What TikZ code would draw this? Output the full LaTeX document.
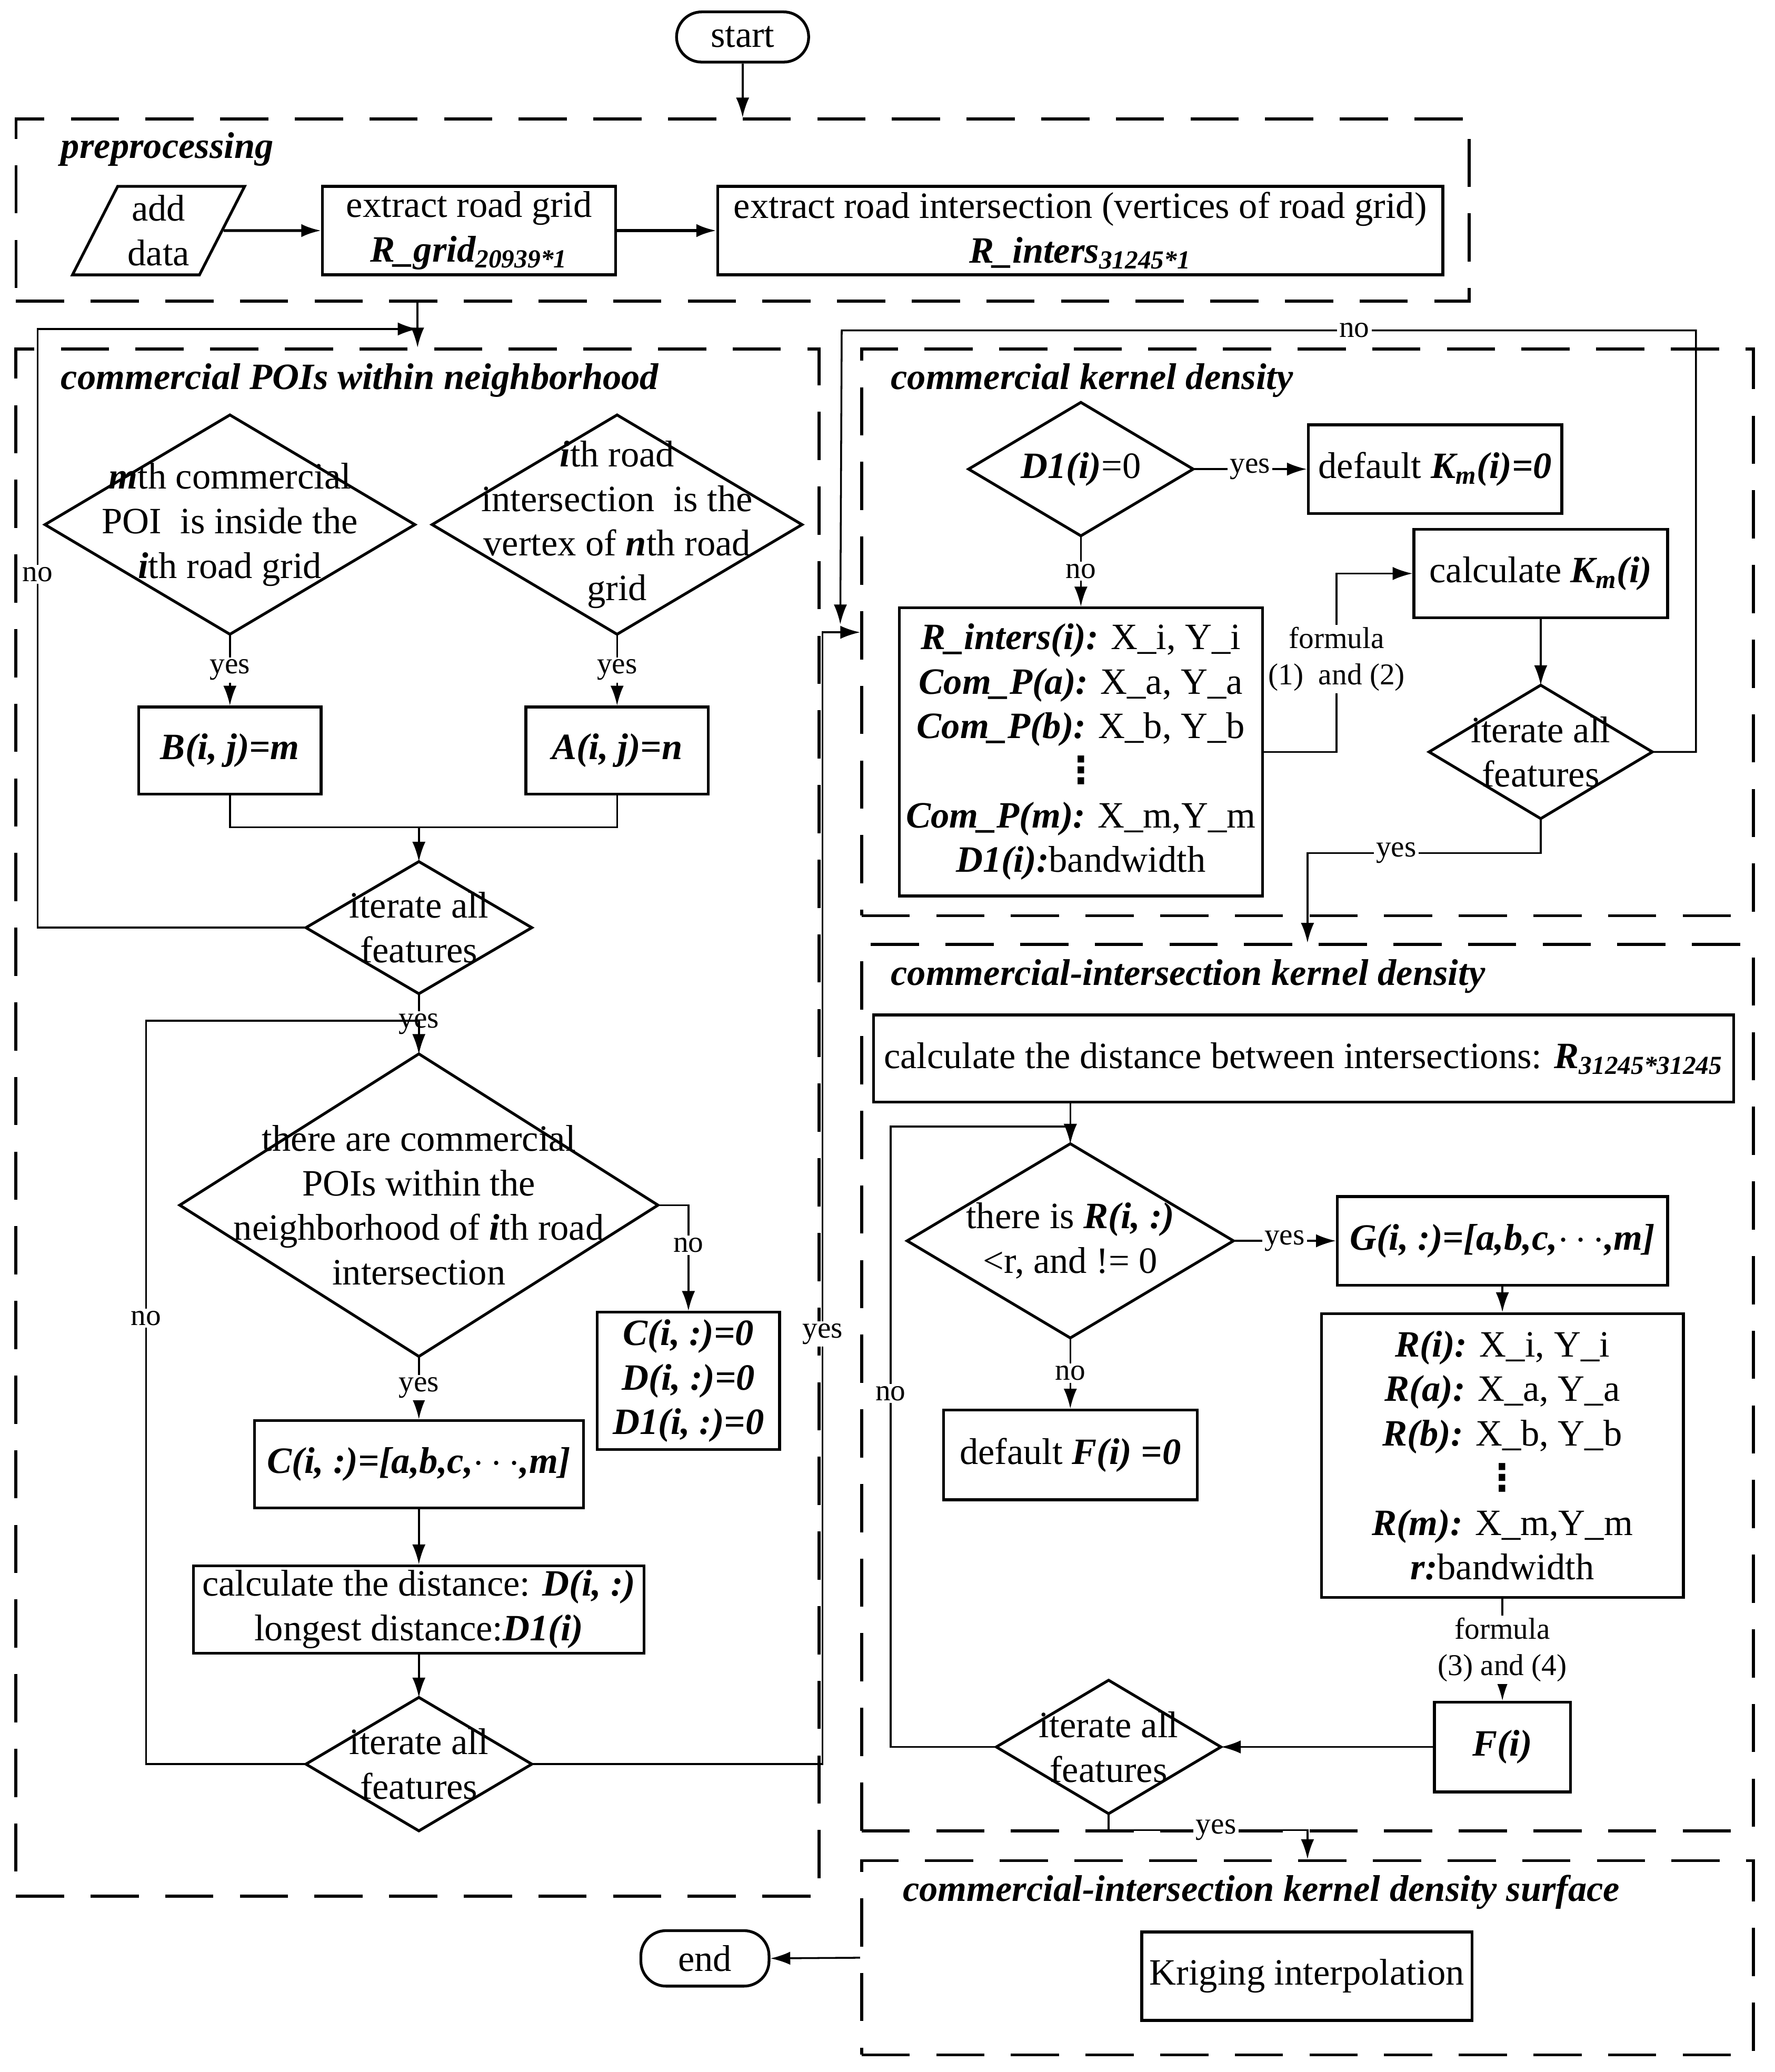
\documentclass[tikz,border=0pt]{standalone}
\usepackage{fontspec}
\setmainfont{Liberation Serif}
\newfontfamily\symfont{DejaVu Sans}
\usetikzlibrary{arrows.meta, shapes.geometric, positioning}
\newcommand{\coldots}{{\symfont\bfseries ⋮}}

\begin{document}
\begin{tikzpicture}[
x=0.02cm, y=-0.02cm,
font=\fontsize{16}{19.2}\selectfont,
box/.style={draw, rectangle, line width=1.2pt, align=center, inner sep=2pt},
decision/.style={draw, diamond, line width=1.2pt, inner sep=0pt, outer sep=0pt},
dtext/.style={align=center, inner sep=0pt},
terminal/.style={draw, rectangle, rounded corners=0.38cm, line width=1.2pt},
io/.style={draw, trapezium, trapezium left angle=64, trapezium right angle=116,
  trapezium stretches=true, line width=1.2pt, align=center, inner sep=1pt},
groupbox/.style={draw, rectangle, line width=1.3pt, dash pattern=on 0.73cm off 0.4cm},
grouptitle/.style={anchor=west, font=\fontsize{16}{19.2}\selectfont\bfseries\itshape},
lbl/.style={fill=white, inner sep=1pt, align=center, font=\fontsize{13}{15.6}\selectfont},
arrow/.style={-{Latex[length=3mm, width=2mm]}, line width=0.8pt},
conn/.style={line width=0.8pt}
]
\useasboundingbox (0,0) rectangle (1343,1568);

% preprocessing
\node[terminal, minimum width=2cm, minimum height=0.76cm] (start) at (562,28) {start};
\node[groupbox, minimum width=22cm, minimum height=2.76cm] (pre) at (562,159) {};
\node[grouptitle] (preT) at (40,113) {preprocessing};
\node[io, minimum width=2.62cm, minimum height=1.34cm] (data) at (120,174.5) {add\\data};
\node[box, minimum width=4.44cm, minimum height=1.34cm] (grid) at (355,174.5) {extract road grid\\\textbf{\textit{R\_grid\textsubscript{20939*1}}}};
\node[box, minimum width=10.98cm, minimum height=1.34cm] (inters) at (817.5,174.5) {extract road intersection (vertices of road grid)\\\textbf{\textit{R\_inters\textsubscript{31245*1}}}};

% commercial POIs within neighborhood
\node[groupbox, minimum width=12.16cm, minimum height=23.42cm] (poi) at (316,849.5) {};
\node[grouptitle] (poiT) at (40,288) {commercial POIs within neighborhood};
\node[decision, minimum width=5.6cm, minimum height=3.32cm,
  label={[dtext]center:{\textbf{\textit{m}}th commercial\\POI\ \ is inside the\\\textbf{\textit{i}}th road grid}}] (inside) at (174,397) {};
\node[decision, minimum width=5.6cm, minimum height=3.32cm,
  label={[dtext]center:{\textbf{\textit{i}}th road\\intersection\ \ is the\\vertex of \textbf{\textit{n}}th road\\grid}}] (vertex) at (467,397) {};
\node[box, minimum width=2.76cm, minimum height=1.32cm] (bij) at (174,568) {\textbf{\textit{B(i, j)=m}}};
\node[box, minimum width=2.76cm, minimum height=1.32cm] (aij) at (467,568) {\textbf{\textit{A(i, j)=n}}};
\coordinate (merge) at (317,626);
\node[decision, minimum width=3.42cm, minimum height=2cm,
  label={[dtext]center:{iterate all\\features}}] (iterA) at (317,702) {};
\node[decision, minimum width=7.24cm, minimum height=4.58cm,
  label={[dtext]center:{there are commercial\\POIs within the\\neighborhood of \textbf{\textit{i}}th road\\intersection}}] (nbhd) at (317,912) {};
\node[box, minimum width=2.76cm, minimum height=2.08cm] (czero) at (521,1045) {\textbf{\textit{C(i, :)=0}}\\\textbf{\textit{D(i, :)=0}}\\\textbf{\textit{D1(i, :)=0}}};
\node[box, minimum width=4.98cm, minimum height=1.32cm] (cset) at (317,1108) {\textbf{\textit{C(i, :)=[a,b,c,$\cdots$,m]}}};
\node[box, minimum width=6.82cm, minimum height=1.32cm] (dist) at (317,1218) {calculate the distance: \textbf{\textit{D(i, :)}}\\longest distance:\textbf{\textit{D1(i)}}};
\node[decision, minimum width=3.42cm, minimum height=2.02cm,
  label={[dtext]center:{iterate all\\features}}] (iterB) at (317,1335) {};

% commercial kernel density
\node[groupbox, minimum width=13.5cm, minimum height=8.58cm] (kd) at (989.5,478.5) {};
\node[grouptitle] (kdT) at (668,288) {commercial kernel density};
\node[decision, minimum width=3.4cm, minimum height=2.02cm,
  label={[dtext]center:{\textbf{\textit{D1(i)}}=0}}] (dzero) at (818,355) {};
\node[box, minimum width=3.84cm, minimum height=1.34cm] (kdef) at (1086,355) {default \textbf{\textit{K\textsubscript{m}(i)=0}}};
\node[box, minimum width=5.5cm, minimum height=4.36cm] (kin) at (818,569) {\textbf{\textit{R\_inters(i):}} X\_i, Y\_i\\\textbf{\textit{Com\_P(a):}} X\_a, Y\_a\\\textbf{\textit{Com\_P(b):}} X\_b, Y\_b\\\coldots\\\textbf{\textit{Com\_P(m):}} X\_m,Y\_m\\\textbf{\textit{D1(i):}}bandwidth};
\node[box, minimum width=3.84cm, minimum height=1.34cm] (kcalc) at (1166,434) {calculate \textbf{\textit{K\textsubscript{m}(i)}}};
\node[decision, minimum width=3.38cm, minimum height=2.02cm,
  label={[dtext]center:{iterate all\\features}}] (iterC) at (1166,569) {};
\coordinate (noTop) at (637,250);

% commercial-intersection kernel density
\node[groupbox, minimum width=13.5cm, minimum height=13.42cm] (ci) at (989.5,1050) {};
\node[grouptitle] (ciT) at (668,739) {commercial-intersection kernel density};
\node[box, minimum width=13.02cm, minimum height=1.32cm] (rdist) at (986.5,801) {calculate the distance between intersections: \textbf{\textit{R\textsubscript{31245*31245}}}};
\node[decision, minimum width=4.94cm, minimum height=2.94cm,
  label={[dtext]center:{there is \textbf{\textit{R(i, :)}}\\<r, and != 0}}] (rcheck) at (810,939) {};
\node[box, minimum width=5cm, minimum height=1.34cm] (gset) at (1137,939) {\textbf{\textit{G(i, :)=[a,b,c,$\cdots$,m]}}};
\node[box, minimum width=3.84cm, minimum height=1.36cm] (fdef) at (810,1101) {default \textbf{\textit{F(i) =0}}};
\node[box, minimum width=5.48cm, minimum height=4.3cm] (rin) at (1137,1101.5) {\textbf{\textit{R(i):}} X\_i, Y\_i\\\textbf{\textit{R(a):}} X\_a, Y\_a\\\textbf{\textit{R(b):}} X\_b, Y\_b\\\coldots\\\textbf{\textit{R(m):}} X\_m,Y\_m\\\textbf{\textit{r:}}bandwidth};
\node[box, minimum width=2.06cm, minimum height=1.36cm] (fval) at (1137,1322) {\textbf{\textit{F(i)}}};
\node[decision, minimum width=3.4cm, minimum height=2.02cm,
  label={[dtext]center:{iterate all\\features}}] (iterD) at (839,1322) {};

% commercial-intersection kernel density surface
\node[groupbox, minimum width=13.5cm, minimum height=2.94cm] (surf) at (989.5,1481.5) {};
\node[grouptitle] (surfT) at (677,1432) {commercial-intersection kernel density surface};
\node[box, minimum width=5cm, minimum height=1.34cm] (krig) at (989,1495.5) {Kriging interpolation};
\node[terminal, minimum width=1.94cm, minimum height=0.84cm] (stop) at (533.5,1482) {end};

% connectors
\draw[arrow] (start) -- (pre.north);
\draw[arrow, line width=1.2pt] (data) -- (grid);
\draw[arrow, line width=1.2pt] (grid) -- (inters);
\draw[arrow] (pre.south -| poi.north) -- (poi.north);

\draw[arrow] (inside.south) -- node[lbl]{yes} (bij.north);
\draw[arrow] (vertex.south) -- node[lbl]{yes} (aij.north);
\draw[conn] (bij.south) |- (merge) -| (aij.south);
\draw[arrow] (merge) -- (iterA.north);
\draw[arrow] (iterA.west) -- ++(-203,0) |- node[lbl, pos=0.295]{no} ([yshift=0.28cm]poi.north);
\draw[arrow] (iterA.south) -- node[lbl]{yes} (nbhd.north);
\draw[arrow] (nbhd.east) -| node[lbl, pos=0.69]{no} (czero.north);
\draw[arrow] (nbhd.south) -- node[lbl]{yes} (cset.north);
\draw[arrow] (cset) -- (dist);
\draw[arrow] (dist) -- (iterB);
\draw[arrow] (iterB.west) -- ++(-121,0) |- node[lbl, pos=0.3]{no} ([yshift=0.5cm]nbhd.north) -- (nbhd.north);
\draw[arrow] (iterB.east) -- ++(220,0) |- node[lbl, pos=0.19]{yes} (kd.west);

\draw[arrow] (dzero.east) -- node[lbl]{yes} (kdef.west);
\draw[arrow] (dzero.south) -- node[lbl]{no} (kin.north);
\draw[arrow] (kin.east) -- ++(55,0) |- node[lbl, pos=0.26]{formula\\(1)\ \ and (2)} (kcalc.west);
\draw[arrow] (kcalc) -- (iterC);
\draw[arrow] (iterC.east) -- ++(33,0) |- node[lbl, pos=0.7]{no} (noTop) -- ([xshift=-0.3cm, yshift=0.12cm]kd.west);
\draw[arrow] (iterC.south) -- ++(0,26) -| node[lbl, pos=0.31]{yes} (ci.north);

\draw[arrow] (rdist.south -| rcheck.north) -- (rcheck.north);
\draw[arrow] (rcheck.east) -- node[lbl]{yes} (gset.west);
\draw[arrow] (rcheck.south) -- node[lbl]{no} (fdef.north);
\draw[arrow] (gset) -- (rin);
\draw[arrow] (rin.south) -- node[lbl]{formula\\(3) and (4)} (fval.north);
\draw[arrow] (fval) -- (iterD);
\draw[arrow] (iterD.west) -- ++(-80,0) |- node[lbl, pos=0.285]{no} ([yshift=0.26cm]rcheck.north) -- (rcheck.north);
\draw[arrow] (iterD.south) |- node[lbl, pos=0.77]{yes} ([yshift=0.44cm]surf.north) -- (surf.north);
\draw[arrow] (surf.west) -- (stop.east);

\end{tikzpicture}
\end{document}
